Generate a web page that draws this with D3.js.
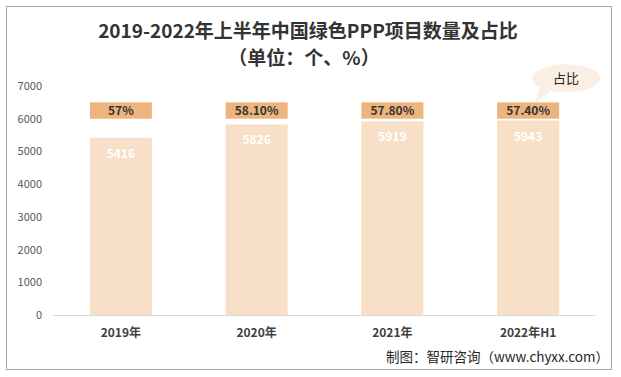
<!DOCTYPE html>
<html>
<head>
<meta charset="utf-8">
<script src="https://cdn.jsdelivr.net/npm/d3@7"></script>
<style>
  body { margin: 0; background: #fff; }
  text { font-family: "Microsoft YaHei", "Noto Sans CJK SC", "DejaVu Sans", sans-serif; }
</style>
</head>
<body>
<svg id="chart" width="621" height="377"></svg>
<script>
// data
let categories = ['2019年', '2020年', '2021年', '2022年H1']
let projectCounts = [5416, 5826, 5919, 5943]
let shareLabels = ['57%', '58.10%', '57.80%', '57.40%']
let yTicks = [0, 1000, 2000, 3000, 4000, 5000, 6000, 7000]

let margin = {top: 86, right: 25, bottom: 62, left: 53}
let width = 621
let height = 377
let plotW = width - margin.left - margin.right
let plotH = height - margin.top - margin.bottom

let svg = d3.select('#chart')

// outer frame
svg.append('rect')
    .attr('x', 6.5).attr('y', 6.5)
    .attr('width', 605).attr('height', 363)
    .attr('fill', '#fff')
    .attr('stroke', '#a6a6a6')
    .attr('stroke-width', 1)

// titles
svg.append('text')
    .attr('x', 308).attr('y', 38)
    .attr('text-anchor', 'middle')
    .style('font-size', '19px')
    .style('font-weight', 'bold')
    .attr('fill', '#333')
    .text('2019-2022年上半年中国绿色PPP项目数量及占比')

svg.append('text')
    .attr('x', 304).attr('y', 65)
    .attr('text-anchor', 'middle')
    .style('font-size', '19px')
    .style('font-weight', 'bold')
    .attr('fill', '#333')
    .text('（单位：个、%）')

let g = svg.append('g')
    .attr('transform', 'translate(' + margin.left + ',' + margin.top + ')')

let x = d3.scaleBand()
    .domain(categories)
    .range([0, plotW])
    .paddingInner(0.543)
    .paddingOuter(0.2715)

let y = d3.scaleLinear()
    .domain([0, 7000])
    .range([plotH, 0])

// y axis labels (no line)
let yAxis = d3.axisLeft(y).tickValues(yTicks).tickSize(0).tickPadding(11).tickFormat(d3.format('d'))
let yG = g.append('g').call(yAxis)
yG.select('.domain').remove()
yG.selectAll('text')
    .style('font-size', '11px')
    .attr('fill', '#595959')

// baseline
g.append('line')
    .attr('x1', 0).attr('x2', plotW)
    .attr('y1', plotH + 0.5).attr('y2', plotH + 0.5)
    .attr('stroke', '#d9d9d9')

// main bars
g.selectAll('.bar')
    .data(projectCounts)
    .enter().append('rect')
    .attr('class', 'bar')
    .attr('x', (d, i) => x(categories[i]))
    .attr('y', d => y(d))
    .attr('width', x.bandwidth())
    .attr('height', d => plotH - y(d))
    .attr('fill', '#f8dfc8')

g.selectAll('.barLabel')
    .data(projectCounts)
    .enter().append('text')
    .attr('x', (d, i) => x(categories[i]) + x.bandwidth() / 2)
    .attr('y', d => y(d) + 20)
    .attr('text-anchor', 'middle')
    .style('font-size', '12px')
    .style('font-weight', 'bold')
    .attr('fill', '#fff')
    .text(d => d)

// share boxes sit between 6000 and 6500
g.selectAll('.share')
    .data(shareLabels)
    .enter().append('rect')
    .attr('x', (d, i) => x(categories[i]))
    .attr('y', y(6500))
    .attr('width', x.bandwidth())
    .attr('height', y(6000) - y(6500))
    .attr('fill', '#eeb47e')

g.selectAll('.shareLabel')
    .data(shareLabels)
    .enter().append('text')
    .attr('x', (d, i) => x(categories[i]) + x.bandwidth() / 2)
    .attr('y', (y(6000) + y(6500)) / 2 + 4.5)
    .attr('text-anchor', 'middle')
    .style('font-size', '12px')
    .style('font-weight', 'bold')
    .attr('fill', '#333')
    .text(d => d)

// x axis labels
g.selectAll('.xLabel')
    .data(categories)
    .enter().append('text')
    .attr('x', d => x(d) + x.bandwidth() / 2)
    .attr('y', plotH + 22)
    .attr('text-anchor', 'middle')
    .style('font-size', '12px')
    .style('font-weight', 'bold')
    .attr('fill', '#404040')
    .text(d => d)

// callout bubble for the share row
let lastX = x(categories[3]) + x.bandwidth() / 2
let tipY = y(6500)
let cx = lastX + 38, cy = tipY - 24
svg.append('path')
    .attr('transform', 'translate(' + margin.left + ',' + margin.top + ')')
    .attr('d', 'M' + (cx - 26) + ',' + (cy + 8) + ' L' + (lastX + 7) + ',' + (tipY + 0.5) + ' L' + (cx - 14) + ',' + (cy + 12) + ' Z')
    .attr('fill', '#fbeee3')
svg.append('ellipse')
    .attr('cx', margin.left + cx).attr('cy', margin.top + cy)
    .attr('rx', 34).attr('ry', 14)
    .attr('fill', '#fbeee3')
svg.append('text')
    .attr('x', margin.left + cx).attr('y', margin.top + cy + 5)
    .attr('text-anchor', 'middle')
    .style('font-size', '13px')
    .attr('fill', '#262626')
    .text('占比')

// source
svg.append('text')
    .attr('x', 609).attr('y', 362)
    .attr('text-anchor', 'end')
    .style('font-size', '13.5px')
    .attr('fill', '#262626')
    .text('制图：智研咨询（www.chyxx.com）')
</script>
</body>
</html>
